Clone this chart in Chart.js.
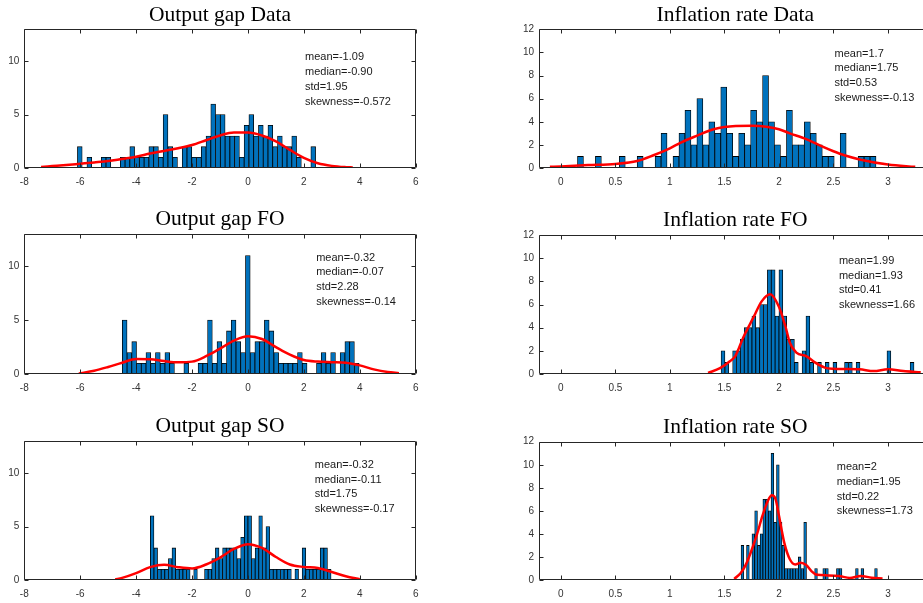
<!DOCTYPE html>
<html>
<head>
<meta charset="utf-8">
<script src="https://cdn.jsdelivr.net/npm/chart.js@4/dist/chart.umd.min.js"></script>
<style>
  body { margin: 0; width: 923px; height: 603px; overflow: hidden; background: #fff; position: relative; }
  canvas { position: absolute; }
</style>
</head>
<body>
<canvas id="ogData" width="460" height="190" style="left:0;top:0"></canvas>
<canvas id="infData" width="520" height="190" style="left:460px;top:0"></canvas>
<canvas id="ogFO" width="460" height="200" style="left:0;top:200px"></canvas>
<canvas id="infFO" width="520" height="200" style="left:460px;top:200px"></canvas>
<canvas id="ogSO" width="460" height="200" style="left:0;top:403px"></canvas>
<canvas id="infSO" width="520" height="200" style="left:460px;top:403px"></canvas>
<script>
// ---- tick labels ----
const outXTicks = [-8, -6, -4, -2, 0, 2, 4, 6];
const outYTicks = [0, 5, 10];
const infXTicks = [0, 0.5, 1, 1.5, 2, 2.5, 3];
const infYTicks = [0, 2, 4, 6, 8, 10, 12];

// ---- Output gap Data (50 bins) ----
const ogDataBinStart = -6.10, ogDataBinWidth = 0.1704;
const ogDataCounts = [2,0,1,0,0,1,1,0,0,1, 1,2,1,1,1,2,2,1,5,2, 1,0,2,2,1,1,2,3,6,5,
                      5,3,3,3,1,4,5,3,4,3, 4,2,3,2,2,3,1,0,0,2];
const ogDataKdeX = [-7.4,-7,-6.5,-6,-5.5,-5,-4.5,-4,-3.5,-3,-2.5,-2,-1.5,-1,-0.5,0,0.5,1,1.5,2,2.5,3,3.5,3.75];
const ogDataKdeY = [0.1,0.18,0.28,0.4,0.52,0.65,0.85,1.05,1.35,1.6,1.85,2.15,2.6,3.05,3.32,3.32,3.05,2.5,1.7,0.95,0.45,0.2,0.08,0.05];
const ogDataStats = ['mean=-1.09', 'median=-0.90', 'std=1.95', 'skewness=-0.572'];

// ---- Inflation rate Data ----
const infDataBinStart = 0.1528, infDataBinWidth = 0.05475;
const infDataCounts = [1,0,0,1,0,0,0,1,0,0, 1,0,0,1,3,0,1,3,5,2, 6,2,4,3,7,3,1,3,2,5,
                       4,8,4,2,1,5,2,2,4,3, 2,1,1,0,3,0,0,1,1,1];
const infDataKdeX = [-0.1,0,0.25,0.5,0.7,0.85,1,1.1,1.25,1.4,1.5,1.75,1.9,2,2.1,2.25,2.4,2.5,2.6,2.75,3,3.25];
const infDataKdeY = [0.1,0.14,0.25,0.35,0.6,1.1,1.7,2.2,2.8,3.35,3.55,3.65,3.55,3.35,3.0,2.5,1.85,1.45,1.1,0.72,0.3,0.1];
const infDataStats = ['mean=1.7', 'median=1.75', 'std=0.53', 'skewness=-0.13'];

// ---- Output gap FO ----
const ogFOBinStart = -4.494, ogFOBinWidth = 0.1694;
const ogFOCounts = [5,2,3,1,1,2,1,2,1,2, 1,0,0,1,0,0,1,1,5,1, 3,1,4,5,3,2,11,2,3,3,
                    5,4,2,1,1,1,1,2,1,0, 0,1,2,1,2,0,2,3,3,1];
const ogFOKdeX = [-6.05,-5.5,-5,-4.5,-4,-3.5,-3,-2.5,-2,-1.5,-1,-0.5,0,0.5,1,1.5,2,2.5,3,3.5,4,4.5,5,5.4];
const ogFOKdeY = [0.05,0.3,0.65,1.05,1.4,1.38,1.2,1.08,1.15,1.65,2.35,3.1,3.5,3.25,2.5,1.8,1.3,1.15,1.1,1.05,0.8,0.43,0.18,0.08];
const ogFOStats = ['mean=-0.32', 'median=-0.07', 'std=2.28', 'skewness=-0.14'];

// ---- Inflation rate FO ----
const infFOBinStart = 1.4696, infFOBinWidth = 0.03538;
const infFOCounts = [2,1,0,2,2,3,4,4,5,4, 6,6,9,9,5,9,5,3,3,1, 0,2,5,1,0,1,0,1,0,1,
                     0,0,1,1,0,1,0,0,0,0, 0,0,0,2,0,0,0,0,0,1];
const infFOKdeX = [1.35,1.46,1.55,1.6,1.675,1.77,1.84,1.92,2.0,2.06,2.1,2.16,2.25,2.33,2.42,2.5,2.6,2.74,2.87,3.0,3.14,3.3];
const infFOKdeY = [0.1,0.5,1.1,1.55,3.2,4.95,6.25,6.88,5.8,4.1,2.7,1.85,1.55,1.0,0.55,0.45,0.43,0.4,0.25,0.4,0.25,0.15];
const infFOStats = ['mean=1.99', 'median=1.93', 'std=0.41', 'skewness=1.66'];

// ---- Output gap SO ----
const ogSOBinStart = -3.492, ogSOBinWidth = 0.1293;
const ogSOCounts = [6,3,1,1,1,2,3,1,1,1, 1,0,1,0,0,1,1,2,3,2, 3,3,3,3,2,4,6,6,2,3,
                    6,3,5,1,1,1,1,1,1,0, 1,0,3,1,1,1,1,3,3,1];
const ogSOKdeX = [-4.75,-4.5,-4,-3.5,-3,-2.5,-2,-1.5,-1,-0.5,0,0.5,1,1.5,2,2.5,3,3.5,4];
const ogSOKdeY = [0.05,0.2,0.65,1.2,1.42,1.2,1.08,1.45,2.1,2.9,3.35,3.0,2.15,1.45,1.22,1.12,0.75,0.35,0.08];
const ogSOStats = ['mean=-0.32', 'median=-0.11', 'std=1.75', 'skewness=-0.17'];

// ---- Inflation rate SO ----
const infSOBinStart = 1.653, infSOBinWidth = 0.02499;
const infSOCounts = [3,0,3,0,4,6,3,4,7,7, 6,11,5,10,5,3,1,1,1,1, 1,2,1,5,0,0,0,1,0,0,
                     1,1,0,0,0,1,1,0,0,0, 0,0,1,0,1,0,0,0,0,1];
const infSOKdeX = [1.59,1.65,1.7,1.75,1.8,1.85,1.9,1.935,1.97,2.0,2.05,2.1,2.15,2.2,2.25,2.3,2.35,2.45,2.55,2.65,2.75,2.85,2.95];
const infSOKdeY = [0.1,0.6,1.4,2.6,4.0,5.6,6.9,7.35,7.0,5.6,3.2,1.8,1.35,1.5,1.3,0.75,0.45,0.4,0.35,0.18,0.35,0.2,0.14];
const infSOStats = ['mean=2', 'median=1.95', 'std=0.22', 'skewness=1.73'];

// ---- styling ----
const AXIS_COLOR = '#262626';
const BAR_COLOR = 'rgb(0,114,189)';
const TICK_FONT = { family: '"Liberation Sans", Arial, sans-serif', size: 10 };
const TITLE_FONT = { family: '"Liberation Serif", "Times New Roman", serif', size: 21.5, weight: 'normal', lineHeight: 1.2 };

function binCenters(start, width, n) {
  const out = [];
  for (let i = 0; i < n; i++) out.push(start + width * (i + 0.5));
  return out;
}

// matlab style box with inward ticks on all four sides
const boxPlugin = {
  id: 'matlabBox',
  afterDatasetsDraw(chart) {
    const { ctx, chartArea: a, scales: { x, y } } = chart;
    const L = Math.round(a.left) + 0.5, R = Math.round(a.right) - 0.5;
    const T = Math.round(a.top) + 0.5, B = Math.round(a.bottom) - 0.5;
    ctx.save();
    ctx.strokeStyle = AXIS_COLOR;
    ctx.lineWidth = 1;
    ctx.beginPath();
    ctx.rect(L, T, R - L, B - T);
    x.ticks.forEach(t => {
      const p = Math.round(x.getPixelForValue(t.value)) + 0.5;
      ctx.moveTo(p, B); ctx.lineTo(p, B - 4);
      ctx.moveTo(p, T); ctx.lineTo(p, T + 4);
    });
    y.ticks.forEach(t => {
      const p = Math.round(y.getPixelForValue(t.value)) + 0.5;
      ctx.moveTo(L, p); ctx.lineTo(L + 4, p);
      ctx.moveTo(R, p); ctx.lineTo(R - 4, p);
    });
    ctx.stroke();
    ctx.restore();
  }
};

function statsPlugin(p) {
  return {
    id: 'stats',
    afterDatasetsDraw(chart) {
      const { ctx, scales: { x, y } } = chart;
      ctx.save();
      ctx.font = '11px "Liberation Sans", Arial, sans-serif';
      ctx.fillStyle = '#1a1a1a';
      ctx.textAlign = 'left';
      ctx.textBaseline = 'middle';
      const px = x.getPixelForValue(p.statX), py = y.getPixelForValue(p.statY);
      p.stats.forEach((s, i) => ctx.fillText(s, px, py + i * 14.7));
      ctx.restore();
    }
  };
}

const panels = [
  { id: 'ogData', title: 'Output gap Data', start: ogDataBinStart, width: ogDataBinWidth, counts: ogDataCounts,
    kdeX: ogDataKdeX, kdeY: ogDataKdeY, stats: ogDataStats, xMin: -8, xMax: 6, yMax: 13, xTicks: outXTicks, yTicks: outYTicks,
    statX: 2.04, statY: 10.36, areaTop: 29.3, xAxisH: 22, yAxisW: 24.3, padRight: 44.3 },
  { id: 'infData', title: 'Inflation rate Data', start: infDataBinStart, width: infDataBinWidth, counts: infDataCounts,
    kdeX: infDataKdeX, kdeY: infDataKdeY, stats: infDataStats, xMin: -0.2, xMax: 3.4, yMax: 12, xTicks: infXTicks, yTicks: infYTicks,
    statX: 2.51, statY: 9.9, areaTop: 29.3, xAxisH: 22, yAxisW: 79, padRight: 48.4 },
  { id: 'ogFO', title: 'Output gap FO', start: ogFOBinStart, width: ogFOBinWidth, counts: ogFOCounts,
    kdeX: ogFOKdeX, kdeY: ogFOKdeY, stats: ogFOStats, xMin: -8, xMax: 6, yMax: 13, xTicks: outXTicks, yTicks: outYTicks,
    statX: 2.44, statY: 10.8, areaTop: 34, xAxisH: 26, yAxisW: 24.3, padRight: 44.3 },
  { id: 'infFO', title: 'Inflation rate FO', start: infFOBinStart, width: infFOBinWidth, counts: infFOCounts,
    kdeX: infFOKdeX, kdeY: infFOKdeY, stats: infFOStats, xMin: -0.2, xMax: 3.4, yMax: 12, xTicks: infXTicks, yTicks: infYTicks,
    statX: 2.55, statY: 9.76, areaTop: 35, xAxisH: 26, yAxisW: 79, padRight: 48.4 },
  { id: 'ogSO', title: 'Output gap SO', start: ogSOBinStart, width: ogSOBinWidth, counts: ogSOCounts,
    kdeX: ogSOKdeX, kdeY: ogSOKdeY, stats: ogSOStats, xMin: -8, xMax: 6, yMax: 13, xTicks: outXTicks, yTicks: outYTicks,
    statX: 2.39, statY: 10.76, areaTop: 38, xAxisH: 23, yAxisW: 24.3, padRight: 44.3 },
  { id: 'infSO', title: 'Inflation rate SO', start: infSOBinStart, width: infSOBinWidth, counts: infSOCounts,
    kdeX: infSOKdeX, kdeY: infSOKdeY, stats: infSOStats, xMin: -0.2, xMax: 3.4, yMax: 12, xTicks: infXTicks, yTicks: infYTicks,
    statX: 2.53, statY: 9.78, areaTop: 38.7, xAxisH: 23, yAxisW: 79, padRight: 48.4 }
];

panels.forEach(p => {
  const centers = binCenters(p.start, p.width, p.counts.length);
  const lineH = TITLE_FONT.size * TITLE_FONT.lineHeight;
  const padBottom = 1.4;
  const padTop = Math.max(p.areaTop - lineH - padBottom, 0);

  new Chart(document.getElementById(p.id), {
    data: {
      datasets: [
        {
          type: 'line',
          data: p.kdeX.map((v, i) => ({ x: v, y: p.kdeY[i] })),
          borderColor: '#ff0000',
          borderWidth: 2.5,
          pointRadius: 0,
          cubicInterpolationMode: 'monotone',
          order: 0
        },
        {
          type: 'bar',
          data: centers.map((c, i) => ({ x: c, y: p.counts[i] })),
          backgroundColor: BAR_COLOR,
          borderColor: '#000',
          borderWidth: 0.8,
          borderSkipped: false,
          barPercentage: 1,
          categoryPercentage: 1,
          order: 1
        }
      ]
    },
    options: {
      responsive: false,
      animation: false,
      devicePixelRatio: 1,
      layout: { padding: { left: 0, right: p.padRight, top: 0, bottom: 0 } },
      plugins: {
        legend: { display: false },
        tooltip: { enabled: false },
        title: {
          display: true,
          text: p.title,
          fullSize: false,
          color: '#000',
          font: TITLE_FONT,
          padding: { top: padTop, bottom: padBottom }
        }
      },
      scales: {
        x: {
          type: 'linear',
          min: p.xMin,
          max: p.xMax,
          offset: false,
          grid: { display: false, drawTicks: false },
          border: { display: false },
          afterBuildTicks: s => { s.ticks = p.xTicks.map(v => ({ value: v })); },
          afterFit: s => { s.height = p.xAxisH; },
          ticks: { color: '#333', font: TICK_FONT, padding: 8.5, maxRotation: 0, autoSkip: false, callback: v => String(v) }
        },
        y: {
          type: 'linear',
          min: 0,
          max: p.yMax,
          grid: { display: false, drawTicks: false },
          border: { display: false },
          afterBuildTicks: s => { s.ticks = p.yTicks.map(v => ({ value: v })); },
          afterFit: s => { s.width = p.yAxisW; },
          ticks: { color: '#333', font: TICK_FONT, padding: 5, autoSkip: false, callback: v => String(v) }
        }
      }
    },
    plugins: [boxPlugin, statsPlugin(p)]
  });
});
</script>
</body>
</html>
